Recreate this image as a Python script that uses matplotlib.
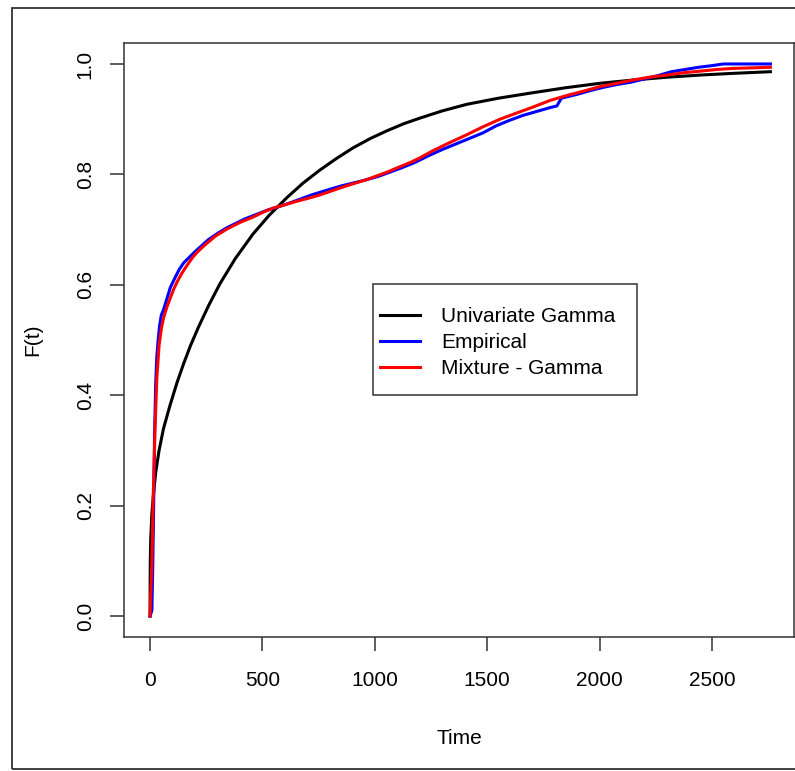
import numpy as np
import matplotlib
matplotlib.use("Agg")
import matplotlib.pyplot as plt
from matplotlib.patches import Rectangle

# values
# univariate gamma cdf (black)
gam_t = [0, 0.3, 1, 3, 8, 15, 25, 40, 60, 89, 120, 150, 180, 215, 260, 311, 380,
         458, 530, 609, 680, 756, 830, 903, 980, 1054, 1130, 1201, 1300, 1410,
         1550, 1704, 1850, 2002, 2150, 2300, 2450, 2593, 2760]
gam_F = [0.0, 0.06, 0.10, 0.14, 0.185, 0.22, 0.26, 0.30, 0.34, 0.382, 0.423,
         0.458, 0.49, 0.523, 0.562, 0.602, 0.648, 0.692, 0.726, 0.758, 0.784,
         0.808, 0.829, 0.848, 0.865, 0.879, 0.892, 0.902, 0.915, 0.927, 0.938,
         0.948, 0.957, 0.965, 0.971, 0.976, 0.980, 0.983, 0.986]

# empirical cdf (blue)
emp_t = [0, 8, 12, 16, 20, 25, 30, 36, 42, 50, 60, 75, 90, 110, 130, 150, 175,
         200, 230, 260, 300, 340, 380, 420, 470, 520, 570, 620, 680, 720, 760,
         800, 850, 900, 960, 1020, 1080, 1120, 1180, 1240, 1300, 1360, 1420,
         1480, 1540, 1600, 1660, 1720, 1780, 1810, 1830, 1900, 1960, 2020, 2080,
         2140, 2200, 2260, 2320, 2380, 2440, 2500, 2550, 2760]
emp_F = [0.0, 0.01, 0.09, 0.20, 0.33, 0.42, 0.47, 0.50, 0.525, 0.545, 0.555,
         0.575, 0.595, 0.612, 0.628, 0.64, 0.65, 0.66, 0.671, 0.682, 0.693,
         0.703, 0.711, 0.719, 0.727, 0.735, 0.741, 0.748, 0.757, 0.763, 0.768,
         0.773, 0.779, 0.784, 0.79, 0.797, 0.806, 0.812, 0.822, 0.834, 0.845,
         0.855, 0.865, 0.875, 0.888, 0.898, 0.907, 0.914, 0.921, 0.924, 0.938,
         0.945, 0.952, 0.958, 0.963, 0.967, 0.973, 0.979, 0.986, 0.99, 0.994,
         0.997, 1.0, 1.0]

# mixture gamma cdf (red)
mix_t = [0, 3, 8, 14, 22, 30, 40, 50, 60, 75, 89, 105, 120, 140, 164, 190, 210,
         230, 252, 290, 342, 400, 460, 500, 547, 600, 650, 697, 750, 800, 850,
         903, 960, 1000, 1054, 1112, 1160, 1201, 1259, 1330, 1410, 1480, 1557,
         1630, 1704, 1780, 1855, 1930, 2002, 2075, 2149, 2220, 2300, 2370, 2447,
         2520, 2593, 2680, 2760]
mix_F = [0.0, 0.04, 0.096, 0.216, 0.337, 0.43, 0.49, 0.52, 0.54, 0.56, 0.575,
         0.592, 0.605, 0.62, 0.635, 0.65, 0.659, 0.667, 0.675, 0.688, 0.701,
         0.713, 0.723, 0.731, 0.739, 0.745, 0.751, 0.756, 0.762, 0.769, 0.776,
         0.783, 0.79, 0.796, 0.804, 0.814, 0.822, 0.830, 0.843, 0.857, 0.872,
         0.886, 0.90, 0.911, 0.922, 0.934, 0.943, 0.951, 0.959, 0.965, 0.971,
         0.976, 0.98, 0.984, 0.987, 0.99, 0.992, 0.993, 0.994]

labels = ["Univariate Gamma", "Empirical", "Mixture - Gamma"]
x_ticks = [0, 500, 1000, 1500, 2000, 2500]
y_ticks = [0.0, 0.2, 0.4, 0.6, 0.8, 1.0]

plt.rcParams['font.family'] = ['Liberation Sans', 'DejaVu Sans']
fs = 15
W, H = 795, 771

fig = plt.figure(figsize=(W / 100, H / 100), dpi=100)
ax = fig.add_axes([124/W, 1 - 637/H, 670/W, 594/H])

lw = 2.2
ax.plot(gam_t, gam_F, color='black', lw=lw, label=labels[0])
ax.plot(emp_t, emp_F, color='blue', lw=lw, label=labels[1])
ax.plot(mix_t, mix_F, color='red', lw=lw, label=labels[2])

ax.set_xlim(-116, 2865)
ax.set_ylim(-0.038, 1.038)
ax.set_xticks(x_ticks)
ax.set_yticks(y_ticks)
ax.set_xticklabels([str(v) for v in x_ticks], fontsize=fs)
ax.set_yticklabels(["%.1f" % v for v in y_ticks], fontsize=fs, rotation=90, va='center')
ax.tick_params(axis='both', length=10, width=1.1, color='#333333')
ax.tick_params(axis='x', pad=14.5)
ax.tick_params(axis='y', pad=11)
for s in ax.spines.values():
    s.set_color('#333333')
    s.set_linewidth(1.1)

ax.set_xlabel("Time", fontsize=fs, labelpad=28)
ax.set_ylabel("F(t)", fontsize=fs, labelpad=24.5)

# legend: entries without frame, box drawn separately (R style padding)
def px2ax(x, y):
    return (x - 124) / 670, (637 - y) / 594

leg = ax.legend(loc='upper left', bbox_to_anchor=px2ax(380, 307), borderaxespad=0,
                frameon=False, fontsize=fs, handlelength=1.92, handletextpad=1.0,
                borderpad=0, labelspacing=0.34)
x0, y0 = px2ax(373, 395)
x1, y1 = px2ax(637, 284)
ax.add_patch(Rectangle((x0, y0), x1 - x0, y1 - y0, transform=ax.transAxes,
                       fill=False, edgecolor='#333333', lw=1.1, zorder=5))

# outer box round the device region
fig.patches.append(Rectangle((12/W, 2/H), 1.0, 1 - 10/H, transform=fig.transFigure,
                             fill=False, edgecolor='#222222', lw=1.2, clip_on=False))

fig.savefig("out.png", dpi=100)
